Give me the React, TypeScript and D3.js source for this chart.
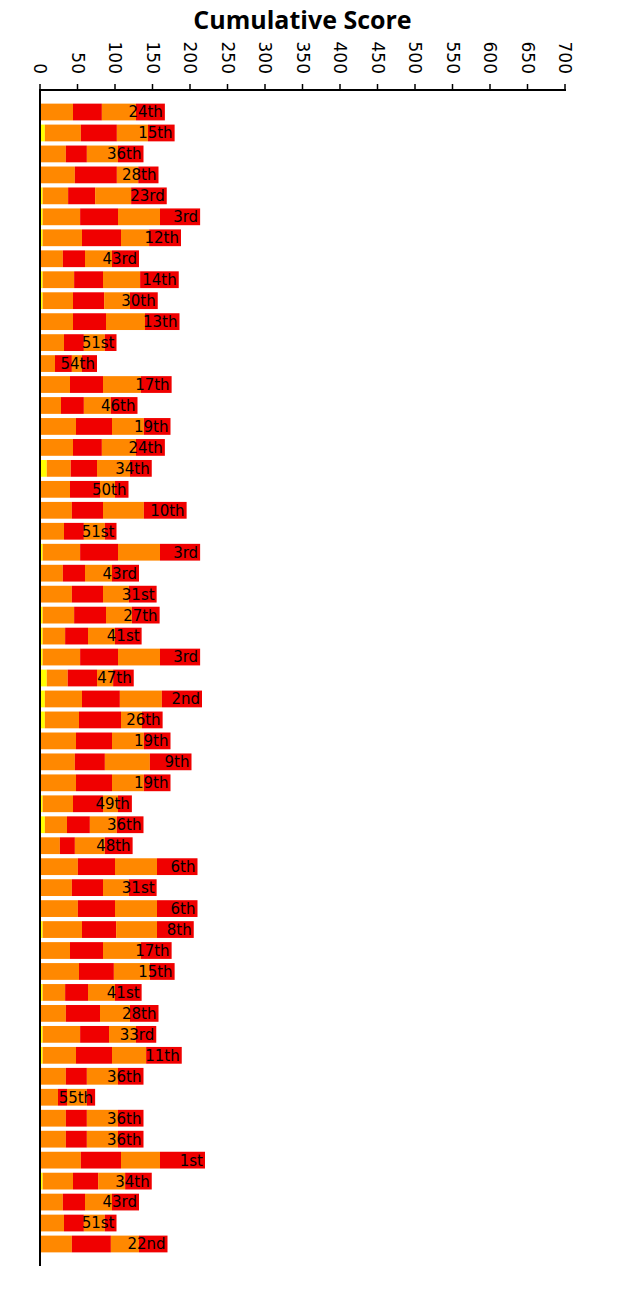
import React from "react";
import * as d3 from "d3";

const ranks = ["24th","15th","36th","28th","23rd","3rd","12th","43rd","14th","30th","13th","51st","54th","17th","46th","19th","24th","34th","50th","10th","51st","3rd","43rd","31st","27th","41st","3rd","47th","2nd","26th","19th","9th","19th","49th","36th","48th","6th","31st","6th","8th","17th","15th","41st","28th","33rd","11th","36th","55th","36th","36th","1st","34th","43rd","51st","22nd"];
const seg0 = [0,6.5,0,0,3.5,3.5,3.5,0,3.5,3.5,0,0,0,0,0,0,0,9,0,0,0,3.5,0,0,3.5,3.5,3.5,9,6.5,6.5,0,0,0,3.5,6.5,0,0,0,0,3.5,0,0,3.5,0,3.5,3.5,0,0,0,0,0,3.5,0,0,0];
const seg1 = [44,48,34.5,46.5,34,50,52.5,30.5,42,40.5,44,32,20,40,28,48,44,32,40,42.5,32,50,30.5,42.5,42,30,50,28,49.5,45.5,48,46.5,48,40.5,29.5,26.5,50.5,42.5,50.5,52.5,40,52,30,34.5,50,44.5,34.5,24,34.5,34.5,54.5,40.5,30.5,32,42.5];
const seg2 = [38.5,48,28,56,36,50.5,52,29.5,38.5,41.5,44,26.5,22.5,44,30.5,48,38.5,35,40,41.5,26.5,50.5,29.5,41.5,42.5,30.5,50.5,39,50.5,56,48,40,48,40,30.5,20,49.5,41.5,49.5,45.5,44,46.5,30.5,45.5,38.5,48,28,12,28,28,53.5,33.5,29.5,26.5,52];
const seg3 = [45.5,41.5,41.5,28.5,48,56,37.5,36,49.5,34.5,52,28,13.5,50.5,36,42.5,45.5,44,20,54.5,28,56,36,34.5,34.5,36,56,21.5,56,28,42.5,60,42.5,20,36,40,56,34.5,56,54.5,50.5,48,36,40,36,45.5,41.5,26.5,41.5,41.5,52,36,36,28,37.5];
const seg4 = [38.5,35.5,34,27,47.5,53.5,42.5,36,51.5,37,46,15.5,20,41,35.5,35.5,38.5,29,18,57,15.5,53.5,36,37,37,35.5,53.5,27.5,53.5,27.5,35.5,55.5,35.5,18.5,35.5,37,54,37,54,49,41,33,35.5,38,27,47.5,34,11,34,34,60,35.5,36,15.5,38];
const tickValues = [0,50,100,150,200,250,300,350,400,450,500,550,600,650,700];

const keys = ["s0","s1","s2","s3","s4"];
const colors = ["#ffff00","#ff8800","#f00000","#ff8800","#f00000"];

export default function App() {
  const W = 643, H = 1290;
  const x0 = 40, x1 = 565, axisY = 90, yEnd = 1266;
  const rows = ranks.map((r, i) => ({ id: i, rank: r, s0: seg0[i], s1: seg1[i], s2: seg2[i], s3: seg3[i], s4: seg4[i] }));
  const x = d3.scaleLinear().domain([0, 700]).range([x0, x1]);
  const y = d3.scaleBand<number>().domain(rows.map(d => d.id)).range([axisY, yEnd]).paddingInner(0.2).paddingOuter(0.65);
  const stacked = d3.stack<any>().keys(keys)(rows);
  const font = "'DejaVu Sans', sans-serif";
  return (
    <svg width={W} height={H} style={{ display: "block", marginTop: -8, marginLeft: -8 }}>
      <rect width={W} height={H} fill="#fff" />
      <text x={(x0 + x1) / 2} y={29} textAnchor="middle" fontFamily="'Open Sans', sans-serif" fontWeight={700} fontSize={25}>Cumulative Score</text>
      {stacked.map((layer, k) => (
        <g key={k} fill={colors[k]}>
          {layer.map((d, i) => (
            d[1] - d[0] > 0 ? <rect key={i} x={x(d[0])} y={y(i)} width={x(d[1]) - x(d[0])} height={y.bandwidth()} /> : null
          ))}
        </g>
      ))}
      {rows.map((d, i) => {
        const total = d.s0 + d.s1 + d.s2 + d.s3 + d.s4;
        return (
          <text key={i} x={x(total) - 2} y={(y(i) as number) + y.bandwidth() / 2} dy="0.36em" textAnchor="end" fontFamily={font} fontSize={15} fill="#000">{d.rank}</text>
        );
      })}
      <line x1={x0 - 1} x2={x1 + 1} y1={axisY} y2={axisY} stroke="#000" strokeWidth={2} />
      <line x1={x0} x2={x0} y1={axisY} y2={yEnd} stroke="#000" strokeWidth={2} />
      {tickValues.map(t => (
        <g key={t} transform={`translate(${x(t)},0)`}>
          <line y1={axisY} y2={axisY - 6} stroke="#000" strokeWidth={1.5} />
          <text transform={`translate(0,${axisY - 16}) rotate(90)`} textAnchor="end" dy="0.35em" fontFamily={font} fontSize={17} fill="#000">{t}</text>
        </g>
      ))}
    </svg>
  );
}
